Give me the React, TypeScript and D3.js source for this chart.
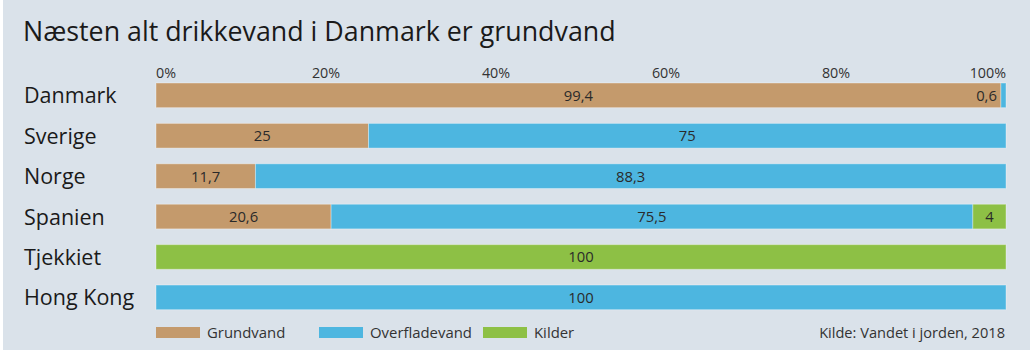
import React from "react";
import * as d3 from "d3";

const countries = ["Danmark", "Sverige", "Norge", "Spanien", "Tjekkiet", "Hong Kong"];
const grundvand = [99.4, 25, 11.7, 20.6, 0, 0];
const overfladevand = [0.6, 75, 88.3, 75.5, 0, 100];
const kilder = [0, 0, 0, 4, 100, 0];
const seriesNames = ["Grundvand", "Overfladevand", "Kilder"];
const seriesColors = ["#c49a6c", "#4db6e0", "#8dc045"];
const ticks = [0, 20, 40, 60, 80, 100];
const title = "Næsten alt drikkevand i Danmark er grundvand";
const source = "Kilde: Vandet i jorden, 2018";

const W = 1030;
const H = 350;
const FONT = "'Open Sans', 'Noto Sans', sans-serif";

export default function App() {
  const x = d3.scaleLinear().domain([0, 100]).range([156, 1006]);
  const y = d3.scaleBand().domain(countries).range([78, 314.7]).paddingInner(0.39).paddingOuter(0.124);
  const rows = countries.map((c, i) => ({ country: c, values: [grundvand[i], overfladevand[i], kilder[i]] }));
  const fmt = (v: number) => String(v).replace(".", ",");
  const legendX = [156, 319, 483];

  return (
    <svg width={W} height={H} style={{ position: "absolute", left: 0, top: 0 }} fontFamily={FONT}>
      <rect x={0} y={0} width={W} height={H} fill="#ffffff" />
      <rect x={3} y={0} width={W - 3} height={H} fill="#dae2ea" />
      <text x={23} y={41} fontSize={26.8} fill="#1a1a1a">{title}</text>
      {ticks.map((t, i) => (
        <text key={t} x={x(t)} y={78} fontSize={14.3} fill="#333"
          textAnchor={i === 0 ? "start" : i === ticks.length - 1 ? "end" : "middle"}>{t}%</text>
      ))}
      {rows.map((r) => {
        let acc = 0;
        const yy = y(r.country)!;
        const bh = y.bandwidth();
        return (
          <g key={r.country}>
            <text x={24} y={yy + bh / 2 + 8} fontSize={21.5} fill="#1a1a1a">{r.country}</text>
            {r.values.map((v, j) => {
              const x0 = x(acc);
              acc += v;
              const x1 = Math.min(x(acc), x(100));
              if (v <= 0) return null;
              return (
                <rect key={j} x={x0} y={yy} width={Math.max(0, x1 - x0)} height={bh}
                  fill={seriesColors[j]} stroke="#ffffff" strokeOpacity={0.35} strokeWidth={1} />
              );
            })}
            {(() => {
              let a = 0;
              return r.values.map((v, j) => {
                const x0 = x(a);
                a += v;
                const x1 = Math.min(x(a), x(100));
                if (v <= 0) return null;
                const small = x1 - x0 < 30;
                return (
                  <text key={"t" + j} x={small ? x0 - 4 : (x0 + x1) / 2} y={yy + bh / 2 + 5.5}
                    fontSize={14.8} fill="#2a2a2a" textAnchor={small ? "end" : "middle"}>{fmt(v)}</text>
                );
              });
            })()}
          </g>
        );
      })}
      {seriesNames.map((s, i) => (
        <g key={s}>
          <rect x={legendX[i]} y={327} width={44} height={11} fill={seriesColors[i]} />
          <text x={legendX[i] + 51} y={338} fontSize={14.9} fill="#333">{s}</text>
        </g>
      ))}
      <text x={1005} y={338} fontSize={14.6} fill="#333" textAnchor="end">{source}</text>
    </svg>
  );
}
